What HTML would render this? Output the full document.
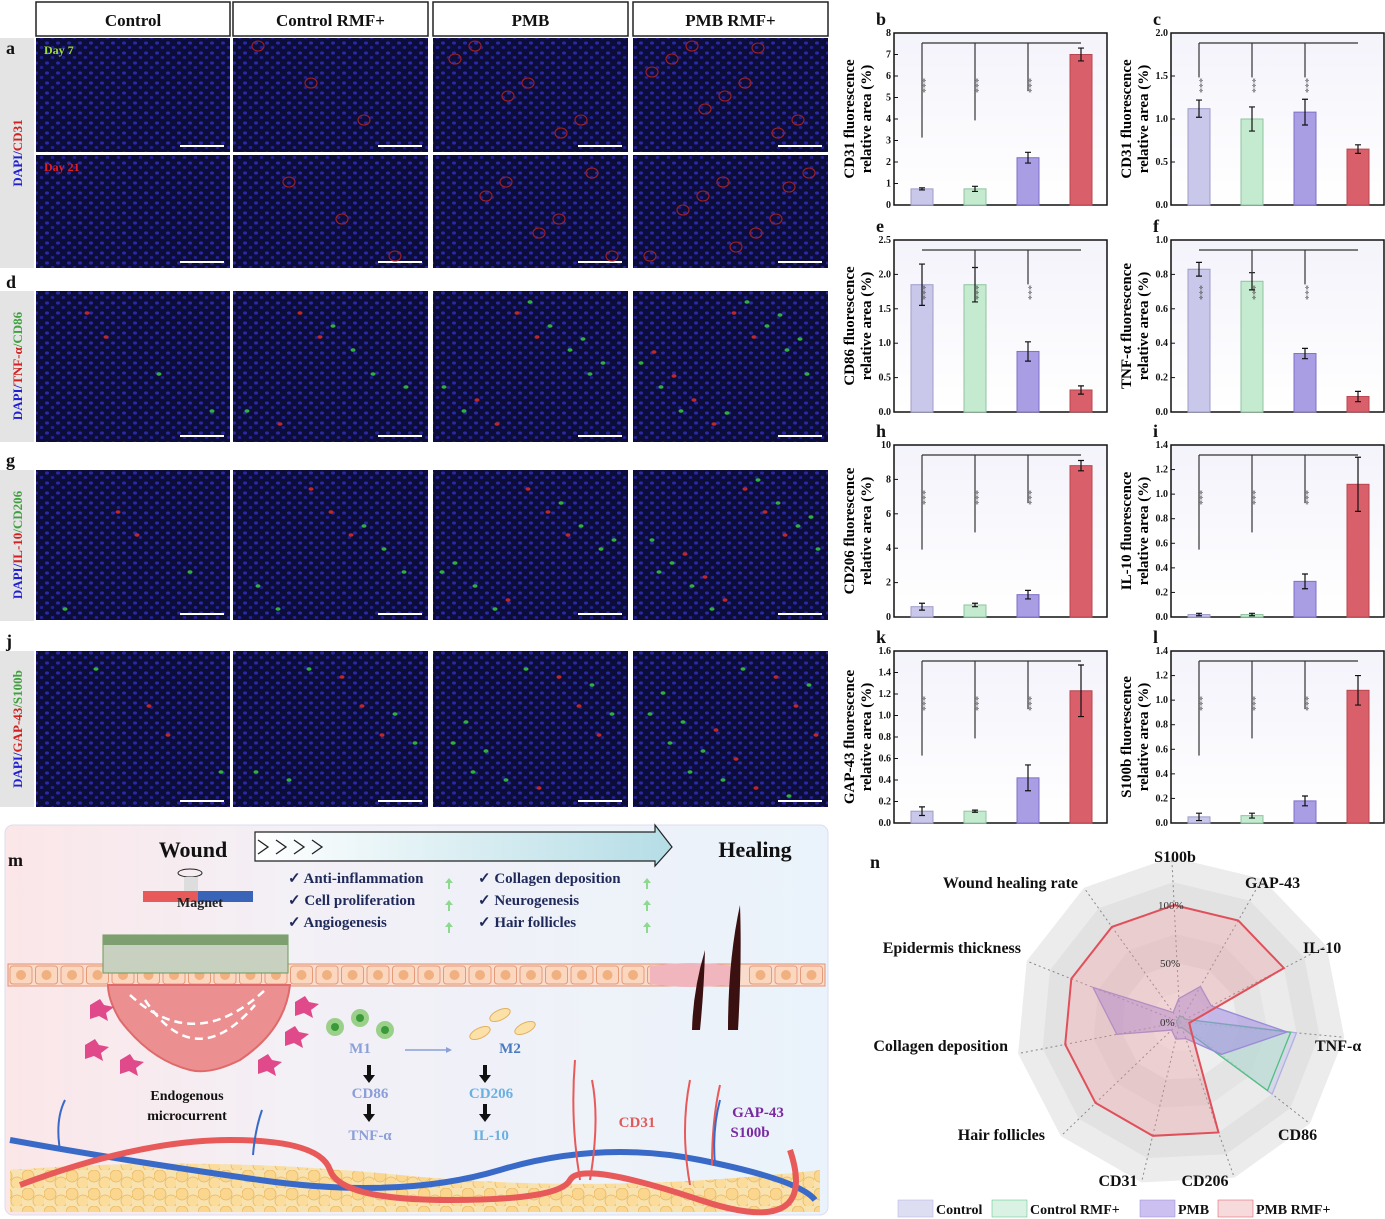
<!DOCTYPE html>
<html><head><meta charset="utf-8">
<style>
html,body{margin:0;padding:0;background:#fff;}
svg{display:block;font-family:"Liberation Serif",serif;}
</style></head>
<body>
<svg id="s" width="1385" height="1219" viewBox="0 0 1385 1219" xmlns="http://www.w3.org/2000/svg">
<defs>
<linearGradient id="pbg" x1="0" y1="0" x2="0" y2="1"><stop offset="0" stop-color="#f4f3fb"/><stop offset="1" stop-color="#ffffff"/></linearGradient>
<linearGradient id="mbg" x1="0" y1="0" x2="1" y2="0"><stop offset="0" stop-color="#fbe6e8"/><stop offset="0.35" stop-color="#f3f0f6"/><stop offset="1" stop-color="#eaf3fb"/></linearGradient>
<linearGradient id="arr" x1="0" y1="0" x2="1" y2="0"><stop offset="0" stop-color="#ffffff"/><stop offset="1" stop-color="#b5dde6"/></linearGradient>
<pattern id="nuc" width="11" height="10" patternUnits="userSpaceOnUse"><rect width="11" height="10" fill="#0d0d3a"/><ellipse cx="3" cy="3" rx="2" ry="1.6" fill="#2828a8"/><ellipse cx="8.5" cy="7.5" rx="1.8" ry="1.5" fill="#22229a"/></pattern>
<pattern id="fat" width="22" height="18" patternUnits="userSpaceOnUse"><rect width="22" height="18" fill="#f8e3b0"/><circle cx="6" cy="6" r="6" fill="#fbd68e" stroke="#e8b860" stroke-width="0.8"/><circle cx="17" cy="13" r="6" fill="#fcdc9a" stroke="#e8b860" stroke-width="0.8"/></pattern>
</defs>
<g id="root"></g>
</svg>
<script>
const R=document.getElementById('root');let h='';
function T(x,y,t,o){o=o||{};h+=`<text x="${x}" y="${y}" font-size="${o.fs||14}" font-weight="${o.fw||'bold'}" fill="${o.c||'#111'}" text-anchor="${o.a||'start'}" ${o.tr?`transform="${o.tr}"`:''} ${o.fi?'font-style="italic"':''}>${t}</text>`;}
h+=`<rect x="0" y="38" width="34" height="230" fill="#e4e4e4"/><rect x="0" y="291" width="34" height="151" fill="#e4e4e4"/><rect x="0" y="470" width="34" height="151" fill="#e4e4e4"/><rect x="0" y="651" width="34" height="156" fill="#e4e4e4"/>`;
const cols=[[36,230],[233,428],[433,628],[633,828]];
const heads=['Control','Control RMF+','PMB','PMB RMF+'];
cols.forEach((c,i)=>{h+=`<rect x="${c[0]}" y="2" width="${c[1]-c[0]}" height="34" fill="#fff" stroke="#222" stroke-width="1.5"/>`;T((c[0]+c[1])/2,26,heads[i],{fs:17,a:'middle'});});
const rows=[[38,152],[155,268],[291,442],[470,620],[651,807]];
rows.forEach((r,ri)=>cols.forEach((c,ci)=>{h+=`<rect x="${c[0]}" y="${r[0]}" width="${c[1]-c[0]}" height="${r[1]-r[0]}" fill="url(#nuc)"/>`;
 h+=`<line x1="${c[1]-50}" y1="${r[1]-6}" x2="${c[1]-6}" y2="${r[1]-6}" stroke="#fff" stroke-width="2"/>`;
 let n=(ri>=2?(ci+1)*4:ci*3);for(let k=0;k<n;k++){let x=c[0]+((k*53+ri*31+ci*17)%(c[1]-c[0]-16))+8,y=r[0]+((k*37+ri*19)%(r[1]-r[0]-16))+8;
 let col=ri<2?'#a02020':(k%3==0?'#c02828':'#30b040');h+=ri<2?`<ellipse cx="${x}" cy="${y}" rx="6" ry="5" fill="none" stroke="${col}" stroke-width="1.1"/>`:`<ellipse cx="${x}" cy="${y}" rx="2.5" ry="1.8" fill="${col}"/>`;}
}));
T(44,54,'Day 7',{fs:12,c:'#9be030'});T(44,171,'Day 21',{fs:12,c:'#e02020'});
function vlab(y,parts){let s=`<text transform="translate(22,${y}) rotate(-90)" font-size="13" font-weight="bold" text-anchor="middle">`;parts.forEach(p=>s+=`<tspan fill="${p[1]}">${p[0]}</tspan>`);h+=s+'</text>';}
vlab(153,[['DAPI/','#2020d0'],['CD31','#d02020']]);
vlab(366,[['DAPI/','#2020d0'],['TNF-α','#d02020'],['/CD86','#40a040']]);
vlab(545,[['DAPI/','#2020d0'],['IL-10','#d02020'],['/CD206','#40a040']]);
vlab(729,[['DAPI/','#2020d0'],['GAP-43','#d02020'],['/S100b','#40a040']]);
T(6,54,'a',{fs:18});T(6,288,'d',{fs:18});T(6,466,'g',{fs:18});T(6,647,'j',{fs:18});
const cl=['#c9c8ea','#c4ead0','#a99de3','#d9606a'],cs=['#9e9cc8','#8fc49f','#7f70c8','#b84650'];
function chart(L,x0,y0,ymax,step,vals,errs,lab1,ends,dec){
 const w=213,hh=172;h+=`<rect x="${x0}" y="${y0}" width="${w}" height="${hh}" fill="url(#pbg)" stroke="#111" stroke-width="1.5"/>`;
 T(x0-18,y0-8,L,{fs:18});
 for(let v=0;v<=ymax+1e-9;v+=step){let y=y0+hh-v/ymax*hh;h+=`<line x1="${x0}" y1="${y}" x2="${x0+4}" y2="${y}" stroke="#111"/>`;T(x0-3,y+3,v.toFixed(dec),{fs:10,a:'end'});}
 const cx=[28,81,134,187];
 vals.forEach((v,i)=>{let bh=v/ymax*hh,x=x0+cx[i]-11,y=y0+hh-bh;h+=`<rect x="${x}" y="${y}" width="22" height="${bh}" fill="${cl[i]}" stroke="${cs[i]}"/>`;
 let e=errs[i]/ymax*hh;h+=`<path d="M${x0+cx[i]} ${y-e}V${y+e}M${x0+cx[i]-3} ${y-e}h6M${x0+cx[i]-3} ${y+e}h6" stroke="#111" stroke-width="1.2"/>`;});
 let ty=y0+10;h+=`<line x1="${x0+cx[0]}" y1="${ty}" x2="${x0+cx[3]}" y2="${ty}" stroke="#333" stroke-width="1.2"/>`;
 ends.forEach((f,i)=>{let ye=ty+hh*f;h+=`<line x1="${x0+cx[i]}" y1="${ty}" x2="${x0+cx[i]}" y2="${ye}" stroke="#333" stroke-width="1.2"/>`;T(x0+cx[i]+5,ty+hh*0.25,'***',{fs:10,c:'#555',fw:'normal',tr:`rotate(90 ${x0+cx[i]+5} ${ty+hh*0.25-8})`});});
 h+=`<text transform="translate(${x0-40},${y0+hh/2}) rotate(-90)" font-size="15" font-weight="bold" text-anchor="middle">${lab1}</text>`;
 h+=`<text transform="translate(${x0-23},${y0+hh/2}) rotate(-90)" font-size="15" font-weight="bold" text-anchor="middle">relative area (%)</text>`;
}
const E3=[0.55,0.45,0.28];
chart('b',894,33,8,1,[.75,.75,2.2,7.0],[.05,.12,.25,.3],'CD31 fluorescence',E3,0);
chart('c',1171,33,2,.5,[1.12,1.0,1.08,.65],[.1,.14,.15,.05],'CD31 fluorescence',[.2,.2,.2],1);
chart('e',894,240,2.5,.5,[1.85,1.85,.88,.32],[.3,.25,.14,.06],'CD86 fluorescence',[.0,.15,.2],1);
chart('f',1171,240,1,.2,[.83,.76,.34,.09],[.04,.05,.03,.03],'TNF-α fluorescence',[.0,.15,.2],1);
chart('h',894,445,10,2,[.6,.7,1.3,8.8],[.2,.1,.25,.3],'CD206 fluorescence',E3,0);
chart('i',1171,445,1.4,.2,[.02,.02,.29,1.08],[.01,.01,.06,.22],'IL-10 fluorescence',E3,1);
chart('k',894,651,1.6,.2,[.11,.11,.42,1.23],[.04,.01,.12,.24],'GAP-43 fluorescence',E3,1);
chart('l',1171,651,1.4,.2,[.05,.06,.18,1.08],[.03,.02,.04,.12],'S100b fluorescence',E3,1);
h+=`<rect x="5" y="825" width="823" height="390" rx="8" fill="url(#mbg)" stroke="#dde" />`;
T(8,866,'m',{fs:18});T(193,857,'Wound',{fs:22,a:'middle'});T(755,857,'Healing',{fs:22,a:'middle'});
h+=`<path d="M255 832H655V825L672 847L655 866V861H255Z" fill="url(#arr)" stroke="#222" stroke-width="1.2"/>`;
for(let i=0;i<4;i++)h+=`<path d="M${258+i*18} 840l10 7l-10 7" fill="none" stroke="#222" stroke-width="1.3"/>`;
[['✓ Anti-inflammation',288,883],['✓ Cell proliferation',288,905],['✓ Angiogenesis',288,927],['✓ Collagen deposition',478,883],['✓ Neurogenesis',478,905],['✓ Hair follicles',478,927]].forEach(t=>T(t[1],t[2],t[0],{fs:15,c:'#1f2a5a'}));
[[449,878],[449,900],[449,922],[647,878],[647,900],[647,922]].forEach(p=>h+=`<path d="M${p[0]} ${p[1]}l-4 5h3v6h2v-6h3z" fill="#8fd88f"/>`);
h+=`<rect x="8" y="964" width="817" height="22" fill="#f9dccb" stroke="#e59070"/>`;
for(let x=10;x<820;x+=25.5){if(x>650&&x<735)continue;h+=`<rect x="${x}" y="966" width="22" height="18" rx="3" fill="#fbd7c0" stroke="#e59a7a"/><circle cx="${x+11}" cy="975" r="5" fill="#f0b080"/>`;}
h+=`<path d="M650 966Q690 960 735 966V984Q690 990 650 984Z" fill="#f0b5bd"/>`;
h+=`<rect x="143" y="891" width="55" height="11" fill="#e85a5a"/><rect x="198" y="891" width="55" height="11" fill="#3a64b8"/>`;T(200,907,'Magnet',{fs:14,a:'middle',c:'#222'});
h+=`<ellipse cx="190" cy="873" rx="12" ry="4" fill="none" stroke="#222"/><rect x="184" y="877" width="14" height="14" fill="#ddd"/>`;
h+=`<rect x="103" y="935" width="185" height="38" fill="#c8d0c0" stroke="#6a9a5a"/><rect x="103" y="935" width="185" height="10" fill="#7ea070"/>`;
h+=`<path d="M108 985L290 985Q285 1030 240 1060Q210 1075 190 1070Q150 1060 120 1020Q108 1000 108 985Z" fill="#ec8f90" stroke="#e06a6a" stroke-width="2"/>`;
h+=`<path d="M130 995Q195 1055 265 990M145 1000Q195 1075 255 1005" fill="none" stroke="#fff" stroke-width="2.5" stroke-dasharray="8 5"/>`;
T(187,1100,'Endogenous',{fs:14,a:'middle'});T(187,1120,'microcurrent',{fs:14,a:'middle'});
[[90,1005],[85,1045],[120,1060],[295,1002],[285,1032],[258,1060]].forEach(p=>h+=`<path d="M${p[0]} ${p[1]}l10 -6l4 6l10 2l-8 6l2 8l-9 -5l-9 3z" fill="#e04a8a"/>`);
[[335,1027],[360,1018],[385,1030]].forEach(p=>h+=`<circle cx="${p[0]}" cy="${p[1]}" r="9" fill="#9ad08a"/><circle cx="${p[0]}" cy="${p[1]}" r="4" fill="#3a9a3a"/>`);
[[500,1015],[525,1028],[480,1033]].forEach(p=>h+=`<ellipse cx="${p[0]}" cy="${p[1]}" rx="11" ry="5" fill="#fbe1a8" stroke="#e0b060" transform="rotate(-25 ${p[0]} ${p[1]})"/>`);
T(360,1053,'M1',{fs:15,c:'#8aa0d8',a:'middle'});T(510,1053,'M2',{fs:15,c:'#4a7ac0',a:'middle'});
h+=`<path d="M405 1050H450" stroke="#8aa0d8" stroke-width="1.5"/><path d="M452 1050l-6 -3v6z" fill="#8aa0d8"/>`;
[[369,1065],[369,1104],[485,1065],[485,1104]].forEach(p=>h+=`<path d="M${p[0]-2} ${p[1]}h4v10h4l-6 8l-6 -8h4z" fill="#111"/>`);
T(370,1098,'CD86',{fs:15,c:'#8a9ed8',a:'middle'});T(370,1140,'TNF-α',{fs:15,c:'#8a9ed8',a:'middle'});
T(491,1098,'CD206',{fs:15,c:'#6ab0e0',a:'middle'});T(491,1140,'IL-10',{fs:15,c:'#6ab0e0',a:'middle'});
T(637,1127,'CD31',{fs:15,c:'#e05a5a',a:'middle'});T(758,1117,'GAP-43',{fs:15,c:'#7a2aa0',a:'middle'});T(750,1137,'S100b',{fs:15,c:'#7a2aa0',a:'middle'});
h+=`<path d="M740 905Q728 960 728 1030L738 1030Q742 960 740 905Z" fill="#3a1010"/><path d="M705 950Q693 990 692 1030L700 1030Q704 990 705 950Z" fill="#3a1010"/>`;
h+=`<path d="M10 1170Q200 1155 400 1175T820 1170V1212H10Z" fill="url(#fat)"/>`;
h+=`<path d="M10 1140Q120 1160 260 1180T500 1170T700 1160T815 1200" fill="none" stroke="#3a6ac8" stroke-width="6"/>`;
h+=`<path d="M20 1185Q140 1140 230 1140T330 1170T450 1200T570 1180T700 1200T790 1150" fill="none" stroke="#e85a5a" stroke-width="6"/>`;
h+=`<path d="M580 1180Q570 1120 575 1060M590 1180Q600 1120 592 1080M690 1185Q680 1130 690 1080M712 1165Q712 1120 720 1085" fill="none" stroke="#e85a5a" stroke-width="2"/>`;
h+=`<path d="M60 1150Q55 1120 65 1100M253 1155Q255 1130 262 1110M715 1165Q712 1130 720 1100" fill="none" stroke="#3a6ac8" stroke-width="2"/>`;
T(870,868,'n',{fs:18});
const cx=1180,cy=1022,N=11,lab=['S100b','GAP-43','IL-10','TNF-α','CD86','CD206','CD31','Hair follicles','Collagen deposition','Epidermis thickness','Wound healing rate'];
function pt(i,r){let a=-Math.PI/2+i*2*Math.PI/N-0.05;return [cx+r*Math.cos(a),cy+r*Math.sin(a)];}
function poly(r){return Array.from({length:N},(_,i)=>pt(i,typeof r=='number'?r:r[i]).map(v=>v.toFixed(1)).join(',')).join(' ');}
[[165,'#ececec'],[140,'#e2e2e2'],[117,'#ebebeb'],[88,'#e4e4e4'],[59,'#eeeeee'],[30,'#f4f4f4']].forEach(g=>h+=`<polygon points="${poly(g[0])}" fill="${g[1]}"/>`);
for(let i=0;i<N;i++){let p=pt(i,165);h+=`<line x1="${cx}" y1="${cy}" x2="${p[0]}" y2="${p[1]}" stroke="#888" stroke-dasharray="2 3"/>`;}
const S=117;
const d=[[.05,.05,.05,1,1,.05,.05,.03,.03,.03,.03],[.05,.05,.05,.95,.95,.05,.05,.03,.03,.03,.03],[.2,.35,.3,.92,.45,.15,.15,.1,.55,.8,.1],[1,1,1.0,.08,.12,1,1,1,1,1,1]];
const fc=['rgba(200,200,235,.6)','rgba(180,230,200,.5)','rgba(160,140,225,.55)','rgba(230,150,155,.35)'],sc=['#b0b0e0','#50c080','#9a8ad8','#e0505a'];
d.forEach((v,k)=>h+=`<polygon points="${poly(v.map(x=>x*S))}" fill="${fc[k]}" stroke="${sc[k]}" stroke-width="${k==3?2:1.3}"/>`);
T(1158,909,'100%',{fs:11,fw:'normal',c:'#333'});T(1160,967,'50%',{fs:11,fw:'normal',c:'#333'});T(1160,1026,'0%',{fs:11,fw:'normal',c:'#333'});
[[1175,862,'middle'],[1245,888,'start'],[1303,953,'start'],[1315,1051,'start'],[1278,1140,'start'],[1205,1186,'middle'],[1118,1186,'middle'],[1045,1140,'end'],[1008,1051,'end'],[1021,953,'end'],[1078,888,'end']].forEach((p,i)=>T(p[0],p[1],lab[i],{fs:16,a:p[2]}));
['Control','Control RMF+','PMB','PMB RMF+'].forEach((t,i)=>{let x=[898,992,1140,1218][i];h+=`<rect x="${x}" y="1200" width="35" height="17" fill="${fc[i]}" stroke="${sc[i]}" stroke-width="0.5"/>`;T(x+38,1214,t,{fs:14});});
R.innerHTML=h;
</script>
</body></html>
